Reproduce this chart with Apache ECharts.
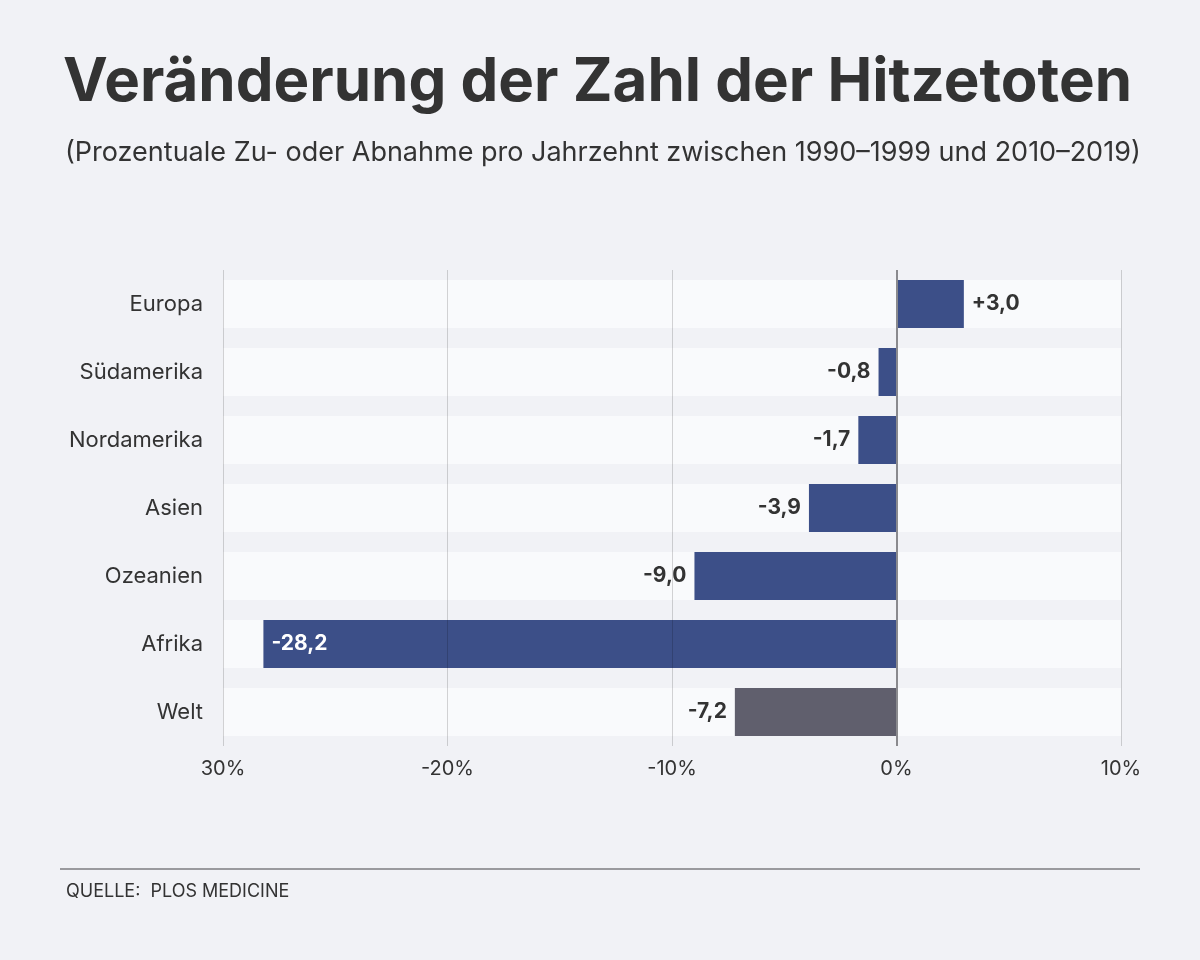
<!DOCTYPE html>
<html>
<head>
<meta charset="utf-8">
<script src="https://cdn.jsdelivr.net/npm/echarts@6/dist/echarts.min.js"></script>
<style>
html,body{margin:0;padding:0;background:#f1f2f6;}
#chart{width:1200px;height:960px;}
</style>
</head>
<body>
<div id="chart"></div>
<script>
const categories = ['Europa','Südamerika','Nordamerika','Asien','Ozeanien','Afrika','Welt'];
const values = [3.0, -0.8, -1.7, -3.9, -9.0, -28.2, -7.2];
const tickValues = [-30, -20, -10, 0, 10];
const tickLabels = ['30%', '-20%', '-10%', '0%', '10%'];
const titleText = 'Veränderung der Zahl der Hitzetoten';
const subtitleText = '(Prozentuale Zu- oder Abnahme pro Jahrzehnt zwischen 1990–1999 und 2010–2019)';
const sourceText = 'QUELLE:  PLOS MEDICINE';

const FONT = 'Inter, "Open Sans", sans-serif';
const BLUE = '#3c4f88';
const GREY = '#605f6d';

function fmt(v){
  const s = Math.abs(v).toFixed(1).replace('.', ',');
  return (v > 0 ? '+' : '-') + s;
}

const barData = values.map((v, i) => {
  const isWorld = categories[i] === 'Welt';
  const inside = v < -20;
  return {
    value: v,
    itemStyle: { color: isWorld ? GREY : BLUE },
    label: {
      show: true,
      position: inside ? 'insideLeft' : (v >= 0 ? 'right' : 'left'),
      distance: 8,
      color: inside ? '#ffffff' : '#333333',
      fontFamily: FONT,
      fontWeight: 'bold',
      fontSize: 21,
      formatter: fmt(v)
    }
  };
});

const chart = echarts.init(document.getElementById('chart'), null, {renderer: 'canvas'});
chart.setOption({
  backgroundColor: '#f1f2f6',
  animation: false,
  title: [
    { text: titleText, left: 58, top: 48,
      textStyle: { fontFamily: FONT, fontWeight: 'bold', fontSize: 60, color: '#333333' } },
    { text: subtitleText, left: 60, top: 134,
      textStyle: { fontFamily: FONT, fontWeight: 'normal', fontSize: 27, color: '#333333' } }
  ],
  grid: { left: 223, right: 79, top: 270, height: 476, containLabel: false },
  xAxis: {
    type: 'value', min: -30, max: 10, interval: 10,
    axisLine: { show: false }, axisTick: { show: false },
    splitLine: { show: false },
    axisLabel: {
      margin: 13, fontFamily: FONT, fontSize: 20, color: '#333333',
      formatter: function(v){ const i = tickValues.indexOf(v); return i >= 0 ? tickLabels[i] : ''; }
    }
  },
  yAxis: {
    type: 'category', data: categories, inverse: true,
    axisLine: { show: false }, axisTick: { show: false },
    axisLabel: { margin: 20, fontFamily: FONT, fontSize: 22, color: '#333333' }
  },
  series: [{
    type: 'bar',
    data: barData,
    barWidth: 48,
    showBackground: true,
    backgroundStyle: { color: '#f9fafc' },
    z: 2,
    markLine: {
      silent: true, symbol: 'none', z: 10,
      label: { show: false },
      data: tickValues.map(t => ({
        xAxis: t,
        lineStyle: t === 0 ? { color: '#8a8a8e', width: 2, type: 'solid' }
                           : { color: 'rgba(0,0,0,0.16)', width: 1, type: 'solid' }
      }))
    }
  }],
  graphic: [
    { type: 'line', shape: { x1: 60, y1: 869, x2: 1140, y2: 869 },
      style: { stroke: '#9a9a9e', lineWidth: 2 } },
    { type: 'text', left: 66, top: 883,
      style: { text: sourceText, fontFamily: FONT, fontSize: 18, fill: '#333333' } }
  ]
});
</script>
</body>
</html>
